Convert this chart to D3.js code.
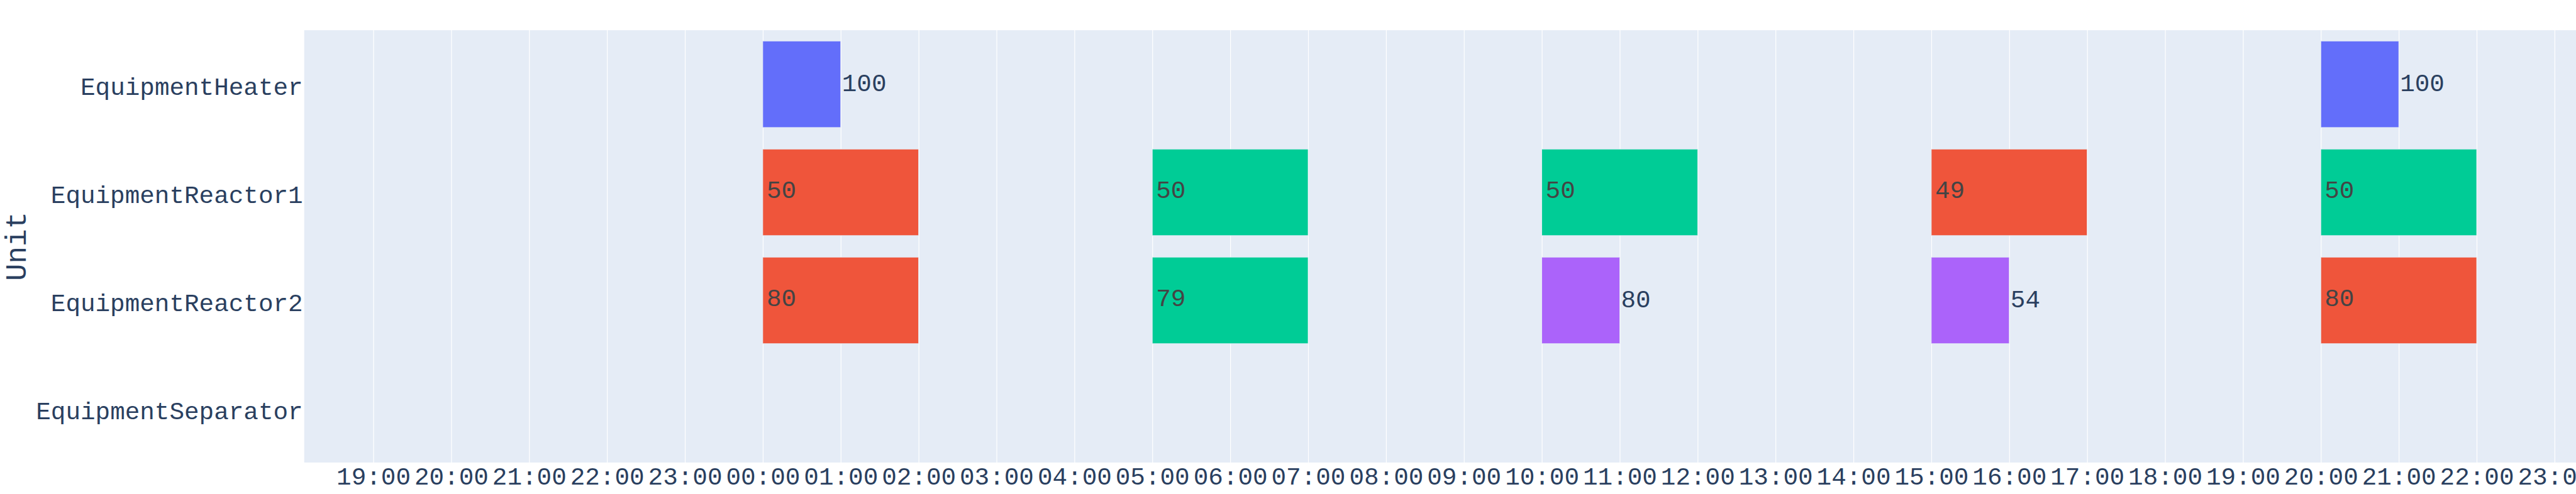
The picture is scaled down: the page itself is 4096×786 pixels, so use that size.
<!DOCTYPE html>
<html>
<head>
<meta charset="utf-8">
<script src="https://cdn.jsdelivr.net/npm/d3@7"></script>
<style>
  html, body { margin: 0; padding: 0; background: #fff; overflow: hidden; }
  svg { display: block; }
</style>
</head>
<body>
<script>
// ---------------- data ----------------
const units = ["EquipmentHeater", "EquipmentReactor1", "EquipmentReactor2", "EquipmentSeparator"];

const barUnits = [
  "EquipmentHeater", "EquipmentHeater",
  "EquipmentReactor1", "EquipmentReactor1", "EquipmentReactor1", "EquipmentReactor1", "EquipmentReactor1",
  "EquipmentReactor2", "EquipmentReactor2", "EquipmentReactor2", "EquipmentReactor2", "EquipmentReactor2"
];
const barStarts = [
  "2024-01-02T00:00", "2024-01-02T20:00",
  "2024-01-02T00:00", "2024-01-02T05:00", "2024-01-02T10:00", "2024-01-02T15:00", "2024-01-02T20:00",
  "2024-01-02T00:00", "2024-01-02T05:00", "2024-01-02T10:00", "2024-01-02T15:00", "2024-01-02T20:00"
];
const barEnds = [
  "2024-01-02T01:00", "2024-01-02T21:00",
  "2024-01-02T02:00", "2024-01-02T07:00", "2024-01-02T12:00", "2024-01-02T17:00", "2024-01-02T22:00",
  "2024-01-02T02:00", "2024-01-02T07:00", "2024-01-02T11:00", "2024-01-02T16:00", "2024-01-02T22:00"
];
const barValues = [100, 100, 50, 50, 50, 49, 50, 80, 79, 80, 54, 80];
const barGroups = [
  "heat", "heat",
  "taskA", "taskB", "taskB", "taskA", "taskB",
  "taskA", "taskB", "taskC", "taskC", "taskA"
];
const groupNames = ["heat", "taskA", "taskB", "taskC"];
const groupColors = ["#636efa", "#EF553B", "#00cc96", "#ab63fa"];

const xRange = ["2024-01-01T18:06:48", "2024-01-03T00:06:48"];
const yTitle = "Unit";

// ---------------- layout ----------------
const W = 4096, H = 786;
const plotLeft = 483.7, plotTop = 48.1, plotBottom = 735.9, plotRight = 4199.8;
const fontFamily = "'Courier New', 'Liberation Mono', monospace";
const tickFont = 39.3, titleFont = 45.8;
const axisColor = "#2a3f5f";

const parse = d3.timeParse("%Y-%m-%dT%H:%M");
const parseS = d3.timeParse("%Y-%m-%dT%H:%M:%S");

const bars = barUnits.map((u, i) => ({
  unit: u,
  start: parse(barStarts[i]),
  end: parse(barEnds[i]),
  value: barValues[i],
  group: barGroups[i]
}));

const x = d3.scaleTime()
  .domain(xRange.map(parseS))
  .range([plotLeft, plotRight]);

const y = d3.scaleBand()
  .domain(units)
  .range([plotTop, plotBottom])
  .paddingInner(0.2)
  .paddingOuter(0.1);

const color = d3.scaleOrdinal().domain(groupNames).range(groupColors);

const svg = d3.select("body").append("svg")
  .attr("width", W).attr("height", H);

svg.append("defs").append("clipPath").attr("id", "plotclip")
  .append("rect")
  .attr("x", plotLeft).attr("y", plotTop)
  .attr("width", plotRight - plotLeft).attr("height", plotBottom - plotTop);

// plot background
svg.append("rect")
  .attr("x", plotLeft).attr("y", plotTop)
  .attr("width", plotRight - plotLeft).attr("height", plotBottom - plotTop)
  .attr("fill", "#E5ECF6");

// x gridlines + tick labels via axis
const ticks = x.ticks(d3.timeHour.every(1));
const xAxis = d3.axisBottom(x)
  .tickValues(ticks)
  .tickFormat(d3.timeFormat("%H:%M"))
  .tickSize(-(plotBottom - plotTop))
  .tickPadding(0);

const gx = svg.append("g")
  .attr("transform", `translate(0,${plotBottom})`)
  .call(xAxis);
gx.select(".domain").remove();
gx.selectAll(".tick line").attr("stroke", "#ffffff").attr("stroke-width", 1.2);
gx.selectAll(".tick text")
  .attr("fill", axisColor)
  .attr("font-family", fontFamily)
  .attr("font-size", tickFont)
  .attr("dy", null)
  .attr("y", 34.9);

// y axis labels
const yAxis = d3.axisLeft(y).tickSize(0).tickPadding(0);
const gy = svg.append("g")
  .attr("transform", `translate(${plotLeft - 2},0)`)
  .call(yAxis);
gy.select(".domain").remove();
gy.selectAll(".tick text")
  .attr("fill", axisColor)
  .attr("font-family", fontFamily)
  .attr("font-size", tickFont)
  .attr("dy", null)
  .attr("y", 17);

// y title
svg.append("text")
  .attr("transform", `translate(41,${(plotTop + plotBottom) / 2}) rotate(-90)`)
  .attr("text-anchor", "middle")
  .attr("fill", axisColor)
  .attr("font-family", fontFamily)
  .attr("font-size", titleFont)
  .text(yTitle);

// bars
const gBars = svg.append("g").attr("clip-path", "url(#plotclip)");
gBars.selectAll("rect.bar")
  .data(bars)
  .join("rect")
  .attr("class", "bar")
  .attr("x", d => x(d.start))
  .attr("y", d => y(d.unit))
  .attr("width", d => x(d.end) - x(d.start))
  .attr("height", y.bandwidth())
  .attr("fill", d => color(d.group))
  .attr("stroke", "#E5ECF6")
  .attr("stroke-width", 0.8);

// bar texts
const inside = d => (d.end - d.start) >= 2 * 3600 * 1000;
gBars.selectAll("text.lbl")
  .data(bars)
  .join("text")
  .attr("class", "lbl")
  .attr("x", d => inside(d) ? x(d.start) + 6 : x(d.end) + 2)
  .attr("y", d => y(d.unit) + y.bandwidth() / 2 + (inside(d) ? 9 : 11.4))
  .attr("fill", d => inside(d) ? "#444444" : axisColor)
  .attr("font-family", fontFamily)
  .attr("font-size", tickFont)
  .text(d => d.value);
</script>
</body>
</html>
